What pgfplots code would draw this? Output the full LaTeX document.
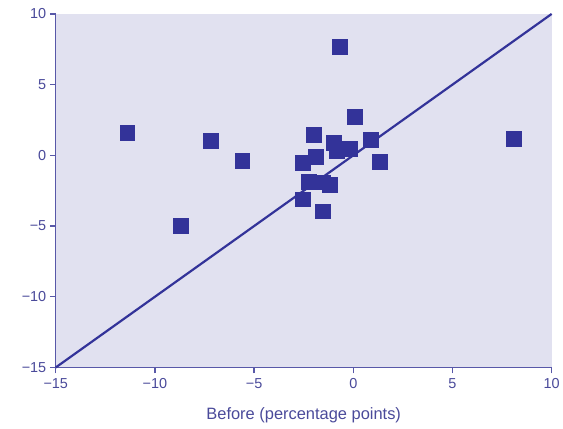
\documentclass[border=0pt]{standalone}
\usepackage{pgfplots}
\pgfplotsset{compat=1.18}
\usepackage{fontspec}
\setmainfont{Liberation Sans}

\definecolor{bgfill}{HTML}{E1E1F0}
\definecolor{axcol}{HTML}{5858A8}
\definecolor{lblcol}{HTML}{4A4A9A}
\definecolor{markcol}{HTML}{333399}

\begin{document}
\begin{tikzpicture}
\begin{axis}[
    scale only axis,
    width=498pt,
    height=355pt,
    xmin=-15, xmax=10,
    ymin=-15, ymax=10,
    axis lines*=left,
    axis line style={axcol, line width=1.3pt},
    axis background/.style={fill=bgfill},
    tick align=outside,
    major tick length=6pt,
    tick style={axcol, line width=1.3pt},
    xtick={-15,-10,-5,0,5,10},
    ytick={-15,-10,-5,0,5,10},
    xticklabels={−15,−10,−5,0,5,10},
    yticklabels={−15,−10,−5,0,5,10},
    ticklabel style={font=\fontsize{14.5}{17}\selectfont, text=lblcol},
    xticklabel style={yshift=-1.5pt},
    xlabel={Before (percentage points)},
    xlabel style={font=\fontsize{16.5}{19}\selectfont, text=lblcol, yshift=-12pt},
    clip=false,
]
\addplot[markcol, line width=2.2pt] coordinates {(-15,-15) (10,10)};
\addplot[only marks, mark=square*, mark size=7.5pt, color=markcol] coordinates {
    (-11.4, 1.6)
    (-8.7, -5.0)
    (-7.2, 1.05)
    (-5.6, -0.4)
    (-0.7, 7.7)
    (0.05, 2.75)
    (0.9, 1.1)
    (1.35, -0.45)
    (8.1, 1.2)
    (-2.0, 1.45)
    (-1.0, 0.9)
    (-0.85, 0.3)
    (-0.2, 0.5)
    (-1.9, -0.1)
    (-2.55, -0.5)
    (-2.25, -1.85)
    (-1.55, -1.9)
    (-1.2, -2.1)
    (-2.55, -3.1)
    (-1.55, -3.95)
};
\end{axis}
\path (current axis.south west) ++(-56pt,-61pt) rectangle ++(563pt,430pt);
\end{tikzpicture}
\end{document}
